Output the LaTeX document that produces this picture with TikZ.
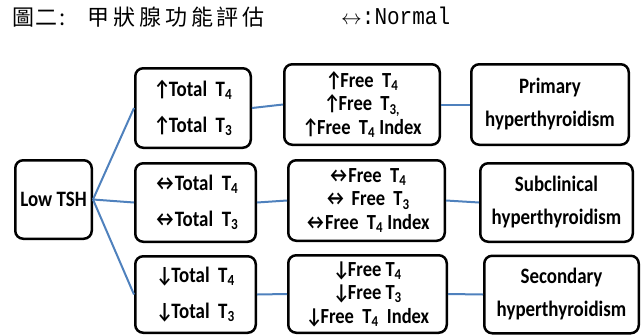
\documentclass[tikz,border=0pt]{standalone}
\usepackage{fontspec}
\setmainfont{Carlito}[FakeStretch=0.86]
\newfontfamily\cjkfont[LetterSpace=18]{Noto Sans CJK TC}
\newfontfamily\cjkplain[LetterSpace=8]{Noto Sans CJK TC}
\newfontfamily\monofont{Liberation Mono}
\newcommand{\myup}{↑\kern-2pt}
\newcommand{\mydn}{↓\kern-2pt}
\newcommand{\mylr}{↔\kern-2.5pt}
\definecolor{linkblue}{HTML}{4F81BD}
\tikzset{
  box/.style={draw=black, line width=2.5pt, rounded corners=8pt, fill=white,
    align=center, inner sep=0pt, font=\fontsize{22}{22}\selectfont\bfseries},
  totbox/.style={box, font=\fontsize{22}{36}\selectfont\bfseries},
  freebox/.style={box, font=\fontsize{21.5}{23.5}\selectfont\bfseries},
  resbox/.style={box, font=\fontsize{22}{33}\selectfont\bfseries},
  link/.style={draw=linkblue, line width=2pt},
}
\begin{document}
\begin{tikzpicture}[x=1pt,y=-1pt]
\useasboundingbox (0,0) rectangle (643,335);
% title
\node[anchor=base west, inner sep=0pt, font=\cjkplain\fontsize{22}{22}\selectfont] (ttla) at (12,25) {圖二:};
\node[anchor=base west, inner sep=0pt, font=\cjkfont\fontsize{22}{22}\selectfont] (ttlb) at (87,25) {甲狀腺功能評估};
\node[anchor=base west, inner sep=0pt, font=\fontsize{21}{21}\selectfont] (ttlc) at (341,24) {$\leftrightarrow$\scalebox{1}[1.15]{\monofont:Normal}};
% boxes
\node[box, minimum width=76.5pt, minimum height=78.5pt] (low) at (53.5,199.5) {Low TSH};
\node[totbox, minimum width=115.5pt, minimum height=79.5pt] (t1) at (193,108) {\myup Total\ \ T\textsubscript{4}\\\myup Total\ \ T\textsubscript{3}};
\node[totbox, minimum width=120.5pt, minimum height=78.5pt] (t2) at (195.5,202.5) {\mylr Total\ \ T\textsubscript{4}\\\mylr Total\ \ T\textsubscript{3}};
\node[totbox, minimum width=120.5pt, minimum height=76.5pt] (t3) at (195.5,294.5) {\mydn Total\ \ T\textsubscript{4}\\\mydn Total\ \ T\textsubscript{3}};
\node[freebox, minimum width=155.5pt, minimum height=80.5pt] (f1) at (362,104.5) {\myup Free\ \ T\textsubscript{4}\\\myup Free\ \ T\textsubscript{3,}\\\myup Free\ \ T\textsubscript{4} Index};
\node[freebox, minimum width=156.5pt, minimum height=80.5pt] (f2) at (366.5,200.5) {\mylr Free\ \ T\textsubscript{4}\\↔\ Free\ \ T\textsubscript{3}\\\mylr Free\ \ T\textsubscript{4} Index};
\node[freebox, minimum width=158.5pt, minimum height=77.5pt] (f3) at (367.5,294) {\mydn Free T\textsubscript{4}\\\mydn Free T\textsubscript{3}\\\mydn Free\ \ T\textsubscript{4}\ \ Index};
\node[resbox, minimum width=157.5pt, minimum height=80.5pt] (r1) at (550,104.5) {Primary\\hyperthyroidism};
\node[resbox, minimum width=152.5pt, minimum height=78.5pt] (r2) at (556.5,202.5) {Subclinical\\hyperthyroidism};
\node[resbox, minimum width=154.5pt, minimum height=77.5pt] (r3) at (561.5,294.5) {Secondary\\hyperthyroidism};
% links
\draw[link] (low.east) -- (t1.west);
\draw[link] (low.east) -- (t2.west);
\draw[link] (low.east) -- (t3.west);
\draw[link] (t1.east) -- (f1.west);
\draw[link] (t2.east) -- (f2.west);
\draw[link] (t3.east) -- (f3.west);
\draw[link] (f1.east) -- (r1.west);
\draw[link] (f2.east) -- (r2.west);
\draw[link] (f3.east) -- (r3.west);
\end{tikzpicture}
\end{document}
